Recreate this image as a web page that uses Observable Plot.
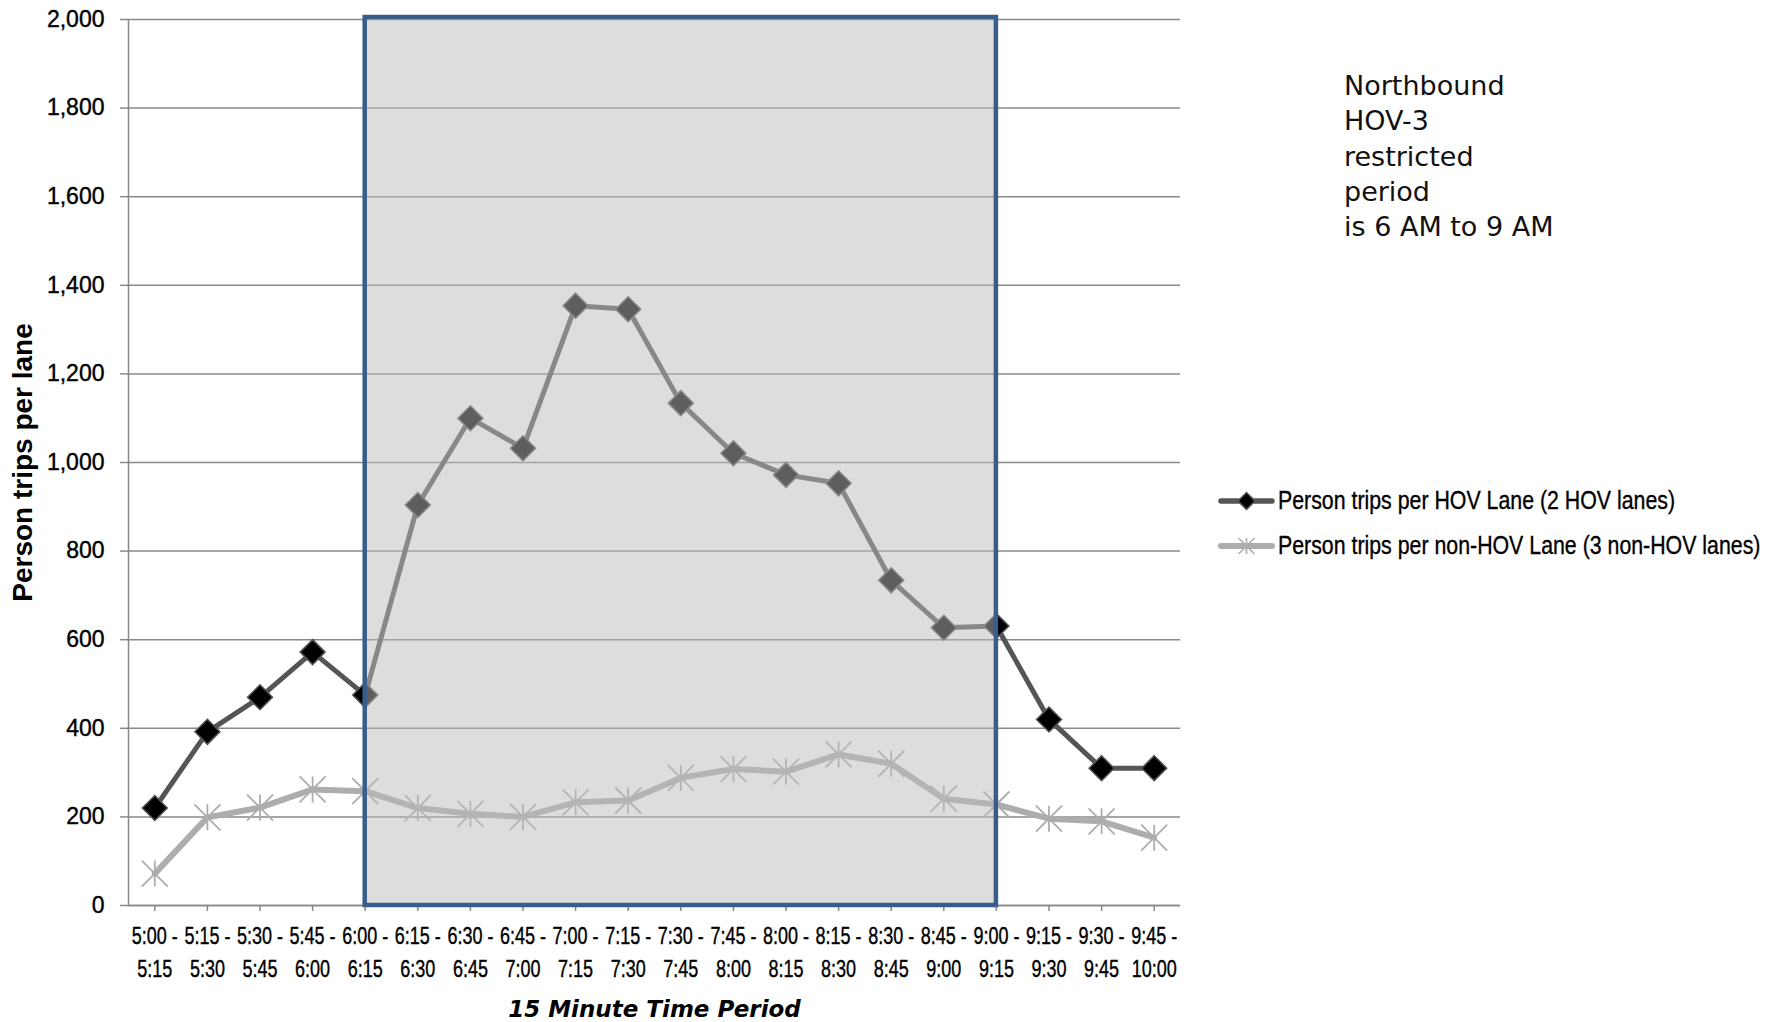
<!DOCTYPE html>
<html>
<head>
<meta charset="utf-8">
<script src="https://cdn.jsdelivr.net/npm/d3@7"></script>
<script src="https://cdn.jsdelivr.net/npm/@observablehq/plot@0.6"></script>
<style>
  html, body { margin: 0; padding: 0; background: #fff; }
  #wrap { position: relative; width: 1785px; height: 1022px; overflow: hidden; }
  #note { position: absolute; left: 1344px; top: 68px; font-family: "DejaVu Sans"; font-size: 27px; line-height: 35.3px; color: #111; }
  #legend { position: absolute; left: 1218px; top: 478px; font-family: "Liberation Sans"; font-size: 25px; color: #000; }
  .row { display: flex; align-items: center; height: 45px; white-space: nowrap; }
  .row svg { margin-right: 3px; flex: none; }
  /* narrow the legend labels to a condensed width */
  .row span { display: inline-block; transform: scaleX(0.853); transform-origin: left center; -webkit-text-stroke: 0.35px #000; }
  /* slightly heavier axis tick labels */
  g[aria-label="x-axis tick label"] text, g[aria-label="y-axis tick label"] text { stroke: #000; stroke-width: 0.4px; }
</style>
</head>
<body>
<div id="wrap">
  <div id="chart"></div>
  <div id="note"></div>
  <div id="legend"></div>
</div>
<script>
// 15-minute counting periods, 5:00 to 10:00 AM
const periods = [
  "5:00 - 5:15", "5:15 - 5:30", "5:30 - 5:45", "5:45 - 6:00",
  "6:00 - 6:15", "6:15 - 6:30", "6:30 - 6:45", "6:45 - 7:00",
  "7:00 - 7:15", "7:15 - 7:30", "7:30 - 7:45", "7:45 - 8:00",
  "8:00 - 8:15", "8:15 - 8:30", "8:30 - 8:45", "8:45 - 9:00",
  "9:00 - 9:15", "9:15 - 9:30", "9:30 - 9:45", "9:45 - 10:00"
];
// Person trips per HOV lane (2 HOV lanes)
const hovTrips = [220, 392, 470, 572, 475, 904, 1100, 1032, 1354, 1346,
                  1134, 1021, 972, 953, 734, 627, 631, 420, 310, 310];
// Person trips per non-HOV lane (3 non-HOV lanes)
const nonHovTrips = [72, 199, 221, 262, 258, 220, 207, 200, 233, 237,
                     288, 308, 302, 341, 320, 241, 228, 196, 190, 153];
const yTicks = [0, 200, 400, 600, 800, 1000, 1200, 1400, 1600, 1800, 2000];
const seriesNames = [
  "Person trips per HOV Lane (2 HOV lanes)",
  "Person trips per non-HOV Lane (3 non-HOV lanes)"
];
// HOV-3 restriction window: first and last restricted periods
const restrictedFrom = "6:00 - 6:15";
const restrictedTo = "9:00 - 9:15";
const noteLines = ["Northbound", "HOV-3", "restricted", "period", "is 6 AM to 9 AM"];
const yTitle = "Person trips per lane";
const xTitle = "15 Minute Time Period";

const rows = periods.map((period, i) => ({i, period, hov: hovTrips[i], nonHov: nonHovTrips[i]}));
const xIdx = periods.map((_, i) => i);
const xDomain = [-0.5, periods.length - 0.5];
const windowRow = [{
  x1: periods.indexOf(restrictedFrom),
  x2: periods.indexOf(restrictedTo),
  y1: yTicks[0],
  y2: yTicks[yTicks.length - 1]
}];

// Marker shapes: filled diamond and an asterisk (vertical bar plus an X)
const diamond = {
  draw(ctx, size) {
    const r = Math.sqrt(size / Math.PI);
    ctx.moveTo(0, -r); ctx.lineTo(r, 0); ctx.lineTo(0, r); ctx.lineTo(-r, 0); ctx.closePath();
  }
};
const star = {
  draw(ctx, size) {
    const r = Math.sqrt(size / Math.PI);
    ctx.moveTo(0, -r); ctx.lineTo(0, r);
    ctx.moveTo(-r, -r); ctx.lineTo(r, r);
    ctx.moveTo(-r, r); ctx.lineTo(r, -r);
  }
};

const hovColor = "#555555";
const nonHovColor = "#adadad";
const gridColor = "#888888";

const chart = Plot.plot({
  width: 1785,
  height: 1022,
  marginLeft: 128,
  marginRight: 605,
  marginTop: 19,
  marginBottom: 117,
  style: {background: "white", overflow: "visible"},
  x: {domain: xDomain},
  y: {domain: [yTicks[0], yTicks[yTicks.length - 1]]},
  marks: [
    Plot.gridY(yTicks, {stroke: gridColor, strokeOpacity: 1, strokeWidth: 1.5}),
    Plot.ruleX([xDomain[0]], {stroke: gridColor, strokeWidth: 1.5}),
    Plot.ruleY([yTicks[0]], {stroke: gridColor, strokeWidth: 1.5}),
    Plot.axisY({
      ticks: yTicks, tickFormat: d3.format(","), tickSize: 8, tickPadding: 16,
      stroke: gridColor, strokeWidth: 1.5, fill: "#000",
      fontSize: 23, fontFamily: "Liberation Sans", label: null
    }),
    Plot.axisX({
      ticks: xIdx, tickFormat: i => periods[i].replace(" - ", " -\n"),
      tickSize: 6, tickPadding: 10, lineHeight: 1.35,
      stroke: gridColor, strokeWidth: 1.5, fill: "#000",
      fontSize: 24, fontFamily: "Liberation Sans", label: null
    }),
    Plot.line(rows, {x: "i", y: "nonHov", stroke: nonHovColor, strokeWidth: 6, strokeLinejoin: "round"}),
    Plot.dot(rows, {x: "i", y: "nonHov", symbol: star, r: 13, stroke: nonHovColor, strokeWidth: 1.8, fill: "none"}),
    Plot.line(rows, {x: "i", y: "hov", stroke: hovColor, strokeWidth: 5, strokeLinejoin: "round"}),
    Plot.dot(rows, {x: "i", y: "hov", symbol: diamond, r: 12.5, fill: "#000", stroke: hovColor, strokeWidth: 1.5}),
    // translucent band over the restricted period
    Plot.rect(windowRow, {
      x1: "x1", x2: "x2", y1: "y1", y2: "y2", insetTop: -2,
      fill: "#bbbbbb", fillOpacity: 0.5, stroke: "#395d8b", strokeWidth: 4.5
    }),
    Plot.text([yTitle], {
      frameAnchor: "left", textAnchor: "middle", rotate: -90, dx: -105,
      fontSize: 28, fontWeight: "bold", fontFamily: "Liberation Sans", fill: "#000"
    }),
    Plot.text([xTitle], {
      frameAnchor: "bottom", textAnchor: "middle", dy: 111,
      fontSize: 23, fontWeight: "bold", fontStyle: "italic", fontFamily: "DejaVu Sans", fill: "#000"
    })
  ]
});

// condense the period labels horizontally around their anchor
d3.select(chart).selectAll('g[aria-label="x-axis tick label"] text').each(function() {
  const el = this;
  const t = el.getAttribute("transform");
  if (t) {
    el.setAttribute("transform", t + " scale(0.75,1)");
  } else {
    const x = +el.getAttribute("x") || 0, y = +el.getAttribute("y") || 0;
    el.removeAttribute("x"); el.removeAttribute("y");
    el.setAttribute("transform", `translate(${x},${y}) scale(0.75,1)`);
  }
});
document.getElementById("chart").append(chart);

// note text at the upper right
const note = document.getElementById("note");
noteLines.forEach(t => { const d = document.createElement("div"); d.textContent = t; note.append(d); });

// legend rows: line swatch with marker, then label
const legend = document.getElementById("legend");
const swatches = [
  {color: hovColor, width: 5.5, mark: "diamond"},
  {color: nonHovColor, width: 6, mark: "star"}
];
seriesNames.forEach((name, k) => {
  const row = document.createElement("div");
  row.className = "row";
  const s = swatches[k];
  const svg = d3.create("svg").attr("width", 57).attr("height", 30);
  svg.append("line").attr("x1", 3).attr("x2", 54).attr("y1", 15).attr("y2", 15)
    .attr("stroke", s.color).attr("stroke-width", s.width).attr("stroke-linecap", "round");
  if (s.mark === "diamond") {
    svg.append("path").attr("d", "M28.5,6.5L37,15L28.5,23.5L20,15Z")
      .attr("fill", "#000").attr("stroke", hovColor).attr("stroke-width", 1.5);
  } else {
    svg.append("path").attr("d", "M28.5,7V23M20.5,7L36.5,23M20.5,23L36.5,7")
      .attr("fill", "none").attr("stroke", nonHovColor).attr("stroke-width", 1.6);
  }
  row.append(svg.node());
  const label = document.createElement("span");
  label.textContent = name;
  row.append(label);
  legend.append(row);
});
</script>
</body>
</html>
